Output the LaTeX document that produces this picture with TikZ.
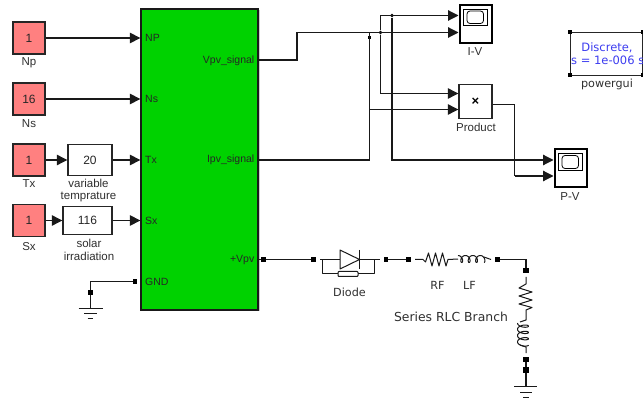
\documentclass[tikz,border=0pt]{standalone}
\usepackage{fontspec}
\setmainfont{Liberation Sans}
\newfontfamily\dv{DejaVu Sans}
\usetikzlibrary{arrows.meta}
\definecolor{salmon}{HTML}{FF8080}
\definecolor{pvgreen}{HTML}{00D200}
\definecolor{lab}{HTML}{303030}
\definecolor{gblue}{HTML}{3C3CF0}
\tikzset{
  x=1pt,y=-1pt,
  blk/.style={draw=black!85,line width=1.4pt,inner sep=0pt,font=\fontsize{12}{12}\selectfont,text=black!85},
  const/.style={blk,fill=salmon,minimum width=32pt,minimum height=32pt},
  gainb/.style={blk,fill=white},
  lbl/.style={inner sep=0pt,text=lab,font=\fontsize{11.5}{12.5}\selectfont,align=center},
  dlbl/.style={inner sep=0pt,text=lab,font=\dv\fontsize{11.2}{13}\selectfont,align=center},
  portl/.style={inner sep=0pt,text=black!85,font=\fontsize{10.5}{12}\selectfont},
  sig/.style={line width=1.15pt,draw=black!90,-{Triangle[length=10.5pt,width=10.5pt]}},
  wire/.style={line width=1.15pt,draw=black!90},
  sq/.style={fill=black,inner sep=0pt,minimum size=4.5pt},
  dotb/.style={circle,fill=black,inner sep=0pt,minimum size=3.8pt},
  scopeb/.style={draw=black,line width=2pt,fill=white,inner sep=0pt,minimum width=32pt},
  comp/.style={line width=1pt,draw=black!90,line join=round},
}
\newcommand{\coilh}[2]{\draw[comp] plot[samples=90,smooth,domain=0:1] ({#1+26*\x+2.5*sin(\x*3.5*360)},{#2-3.5*cos(\x*3.5*360)});}
\newcommand{\coilv}[2]{\draw[comp] plot[samples=90,smooth,domain=0:1] ({#1-5.5*cos(\x*3.5*360)},{#2+22*\x+2.5*sin(\x*3.5*360)});}
\begin{document}
\begin{tikzpicture}
\useasboundingbox (0,0) rectangle (643,398);
\clip (0,0) rectangle (643,398);
\fill[white] (0,0) rectangle (643,398);
% shadow + PV block
\fill[black!20] (142.5,10.5) rectangle (259.5,311);
\node[draw=black!90,line width=1.3pt,fill=pvgreen,minimum width=117pt,minimum height=301pt,inner sep=0pt] (pv) at (199.5,159.5) {};
% constants
\node[const] (np) at (29,38) {1};
\node[const] (ns) at (29,99) {16};
\node[const] (tx) at (29,160) {1};
\node[const] (sx) at (29,220.5) {1};
\node[lbl] at (29,63) {Np};
\node[lbl] at (29,124) {Ns};
\node[lbl] at (29,184) {Tx};
\node[lbl] at (29,246.5) {Sx};
% gains
\node[gainb,minimum width=44pt,minimum height=31pt] (g20) at (90,160) {20};
\node[gainb,minimum width=49pt,minimum height=28pt] (g116) at (87.5,220.5) {116};
\node[lbl] at (88.5,190.5) {variable\\temprature};
\node[lbl] at (89,250) {solar\\irradiation};
% PV ports
\node[portl,anchor=west] (lnp) at (145,38) {NP};
\node[portl,anchor=west] (lns) at (145,99) {Ns};
\node[portl,anchor=west] (ltx) at (145,160) {Tx};
\node[portl,anchor=west] (lsx) at (145,220.5) {Sx};
\node[portl,anchor=west] (lgnd) at (145,282) {GND};
\node[portl,anchor=east] (lv) at (254.5,60.5) {Vpv\_signal};
\node[portl,anchor=east] (li) at (254.5,160) {Ipv\_signal};
\node[portl,anchor=east] (lpv) at (254.5,259.5) {+Vpv};
% input connectors
\draw[sig] (np.east) -- (pv.west|-np.east);
\draw[sig] (ns.east) -- (pv.west|-ns.east);
\draw[sig] (tx.east) -- (g20.west);
\draw[sig] (g20.east) -- (pv.west|-g20.east);
\draw[sig] (sx.east) -- (g116.west);
\draw[sig] (g116.east) -- (pv.west|-g116.east);
% scopes and product
\node[scopeb,minimum height=38pt] (iv) at (475.5,23.7) {};
\draw[line width=.8pt] (463.5,9) rectangle (487.5,25);
\draw[line width=.8pt,rounded corners=3pt] (467,11) rectangle (483.5,23.5);
\node[lbl] at (475,52) {I-V};
\node[blk,fill=white,minimum width=33pt,minimum height=34pt] (prod) at (475.5,101.5) {};
\node[inner sep=0pt,font=\bfseries\fontsize{13}{13}\selectfont] (times) at (475.5,101.5) {×};
\node[lbl] at (476,127.5) {Product};
\node[scopeb,minimum height=38pt] (pvs) at (570.5,168) {};
\draw[line width=.8pt] (558.5,153.5) rectangle (582.5,170);
\draw[line width=.8pt,rounded corners=3pt] (562,155.5) rectangle (578.5,168.5);
\node[lbl] at (570,196.5) {P-V};
% signal routing
\coordinate (a1) at (297,60);
\coordinate (a2) at (297,32.5);
\node[dotb] (d380) at (380.5,32.5) {};
\node[dotb] (d392) at (392,15.5) {};
\node[sq,minimum size=3.5pt] (d369) at (369.5,37.5) {};
\coordinate (pout) at (prod.east|-0,104.5);
\coordinate (pcorner) at (514.5,104.5);
\coordinate (pdown) at (514.5,176);
\draw[wire] (pv.east|-a1) -- (a1) -- (a2);
\draw[sig] (a2) -- (iv.west|-a2);
\draw[sig] (d380) |- (iv.west|-d392);
\draw[sig] (d380) |- (prod.west|-0,93.5);
\draw[wire] (pv.east|-li) -- (d369|-li) -- (369.5,32.5);
\draw[sig] (d369|-0,109.5) -- (prod.west|-0,109.5);
\draw[sig] (d392) |- (pvs.west|-0,160);
\draw[wire] (pout) -- (pcorner) -- (pdown);
\draw[sig] (pdown) -- (pvs.west|-pdown);
% powergui
\node[draw=black!85,line width=.9pt,fill=white,minimum width=72pt,minimum height=43pt,inner sep=0pt] (gui) at (606.5,53.5) {};
\node[inner sep=0pt,text=gblue,font=\dv\fontsize{11.5}{13}\selectfont] at (607,47.5) {Discrete,};
\node[inner sep=0pt,text=gblue,font=\dv\fontsize{11.5}{13}\selectfont,anchor=west] at (571,60.5) {s = 1e-006 s};
\node[sq,minimum size=4pt] at (gui.north west) {};
\node[sq,minimum size=4pt] at (gui.south west) {};
\node[sq,minimum size=4pt] at (gui.north east) {};
\node[sq,minimum size=4pt] at (gui.south east) {};
\node[dlbl] at (607,84) {powergui};
% ground of PV block
\node[sq] (gp) at (135,281.5) {};
\node[sq,minimum size=5.5pt] (gq) at (90.5,292.5) {};
\coordinate (gc) at (90.5,281.5);
\coordinate (g1) at (90.5,308.5);
\draw[wire] (gp) -- (gc) -- (gq);
\draw[wire] (gq) -- (g1);
\draw[comp] (78.5,308.5) -- (102.5,308.5) (84,313.5) -- (96.5,313.5) (87.5,318.5) -- (92.5,318.5);
% circuit
\node[sq] (s1) at (263.5,259.5) {};
\node[sq] (s2) at (313.5,259.5) {};
\node[sq] (s3) at (386,259.5) {};
\node[sq] (s4) at (408.5,259.5) {};
\node[sq] (s5) at (497.5,259.5) {};
\node[sq,minimum size=5.5pt] (s6) at (526,270.5) {};
\node[sq,minimum size=5.5pt] (s7) at (526,359.5) {};
\node[sq,minimum size=5.5pt] (s8) at (526,370) {};
\coordinate (corner) at (526,259.5);
\coordinate (gnd2) at (526,386);
\draw[wire] (pv.east|-s1) -- (s1) -- (s2);
\draw[wire] (s3) -- (s4);
\draw[wire] (s5) -- (corner) -- (s6);
\draw[wire] (s7) -- (s8) -- (gnd2);
\draw[comp] (514,386.5) -- (537,386.5) (520,392) -- (532,392) (523,397.5) -- (529,397.5);
% diode
\draw[comp] (320,259.5) -- (340,259.5) (359.5,259.5) -- (379.5,259.5);
\draw[comp] (340,250) -- (359.5,259.5) -- (340,269) -- cycle;
\draw[comp,line width=1.3pt] (359.5,250) -- (359.5,269);
\draw[comp] (322.5,259.5) -- (322.5,274) -- (338,274) (358,274) -- (374,274) -- (374,259.5);
\draw[comp,rounded corners=.8pt] (338,271.5) rectangle (358,276.5);
\node[dlbl] at (349.5,292.5) {Diode};
% horizontal RL
\draw[comp] (415,259.5) -- (423,259.5) -- (425.5,262) -- (428.5,253) -- (432,266) -- (435.5,253) -- (439,266) -- (442.5,253) -- (446,266) -- (448,259.5) -- (458,259);
\coilh{458}{259}
\draw[comp] (484,257) -- (491,259.5);
\node[dlbl] at (437.5,285) {RF};
\node[dlbl] at (469.5,285) {LF};
\node[dlbl,font=\dv\fontsize{12.4}{13}\selectfont] at (451,316.5) {Series RLC Branch};
% vertical RL
\draw[comp] (526,277) -- (526,284) -- (519,288) -- (532,292) -- (519,296) -- (532,300) -- (519,304) -- (532,307.5) -- (526,310) -- (526,320) -- (520,322);
\coilv{523}{323}
\draw[comp] (520,345) -- (526,347) -- (526,353);
\end{tikzpicture}
\end{document}
